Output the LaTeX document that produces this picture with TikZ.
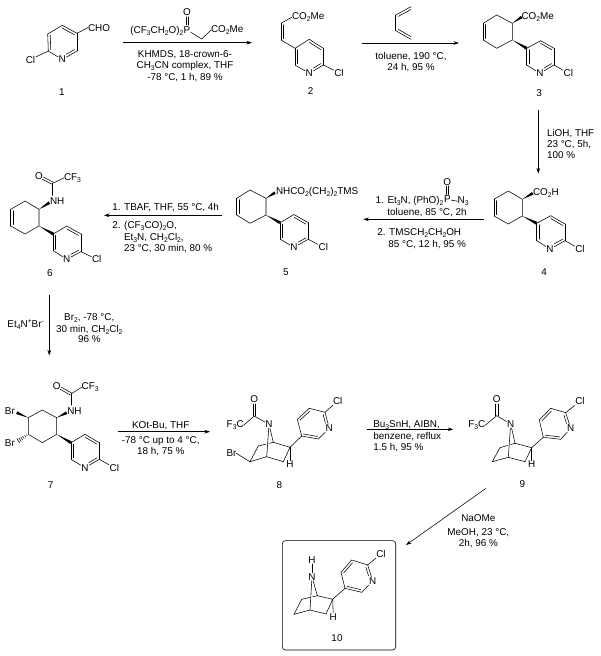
\documentclass[tikz,border=0pt]{standalone}
\usepackage{fontspec}
\setmainfont{Liberation Sans}
\usetikzlibrary{calc,arrows.meta}
\newcommand\sbs[1]{\raisebox{-0.22em}{\fontsize{6.8}{7}\selectfont #1}}
\newcommand\sps[1]{\raisebox{0.36em}{\fontsize{6.8}{7}\selectfont #1}}
% text helpers: name, x, y(centre), text
\newcommand\Lt[4]{\node[txt,anchor=base west] (#1) at (#2,#3) {#4};}
\newcommand\Rt[4]{\node[txt,anchor=base east] (#1) at (#2,#3) {#4};}
\newcommand\Ct[4]{\node[txt,anchor=base] (#1) at (#2,#3) {#4};}
\newcommand\At[4]{\node[atom] (#1) at (#2,#3) {#4};}
% bonds
\newcommand\dbl[3]{\draw[bond] (#1) -- (#2); \draw[bond] ($(#1)!.17!(#3)$) -- ($(#2)!.17!(#3)$);}
\newcommand\dbn[3]{\draw[bond] (#1) -- (#2); \draw[bond,shorten >=4.5pt] ($(#1)!.17!(#3)$) -- ($(#2)!.17!(#3)$);}
\newcommand\dbo[2]{\draw[bond] ($(#1)!1.2pt!90:(#2)$) -- ($(#2)!1.2pt!-90:(#1)$); \draw[bond] ($(#1)!1.2pt!-90:(#2)$) -- ($(#2)!1.2pt!90:(#1)$);}
\newcommand\solidw[2]{\fill ($(#1)$) -- ($(#2)!1.5pt!90:(#1)$) -- ($(#2)!1.5pt!-90:(#1)$) -- cycle;}
\newcommand\hashw[2]{\foreach \t/\w in {.12/.5,.27/.9,.42/1.3,.57/1.7,.72/2.1,.87/2.5}{\coordinate (hp) at ($(#1)!\t!(#2)$); \draw[bond] ($(hp)!\w pt!90:(#2)$) -- ($(hp)!\w pt!-90:(#2)$);}}
% pyridine: attach a, b, c, d(C-Cl), N, f, Cl centre, id
\newcommand\pyrset[8]{\coordinate (a) at (#1); \coordinate (b) at (#2); \coordinate (c) at (#3); \coordinate (d) at (#4); \coordinate (f) at (#6);
  \coordinate (m) at ($(a)!.5!(d)$);
  \node[atom] (N#8) at (#5) {N}; \node[atom] (Cl#8) at (#7) {Cl};
  \draw[bond] (d) -- (Cl#8);}
\newcommand\pyr[8]{\pyrset{#1}{#2}{#3}{#4}{#5}{#6}{#7}{#8}
  \draw[bond] (a) -- (b); \dbl{b}{c}{m} \draw[bond] (c) -- (d); \dbn{d}{N#8}{m} \draw[bond] (N#8) -- (f); \dbl{f}{a}{m}}
\newcommand\pyrK[8]{\pyrset{#1}{#2}{#3}{#4}{#5}{#6}{#7}{#8}
  \dbl{a}{b}{m} \draw[bond] (b) -- (c); \dbl{c}{d}{m} \draw[bond] (d) -- (N#8); \dbn{f}{N#8}{m} \draw[bond] (f) -- (a);}
% cyclohexene: t, ur, lr, b, ll, ul
\newcommand\hexen[6]{\coordinate (h1) at (#1); \coordinate (h2) at (#2); \coordinate (h3) at (#3); \coordinate (h4) at (#4); \coordinate (h5) at (#5); \coordinate (h6) at (#6);
  \coordinate (hm) at ($(h1)!.5!(h4)$);
  \draw[bond] (h6) -- (h1) -- (h2) -- (h3) -- (h4) -- (h5); \dbl{h5}{h6}{hm}}
% azanorbornane: c1,c2,c3,c4,c5,c6, top atom node
\newcommand\nor[7]{\coordinate (k1) at (#1); \coordinate (k2) at (#2); \coordinate (k3) at (#3); \coordinate (k4) at (#4); \coordinate (k5) at (#5); \coordinate (k6) at (#6);
  \draw[bond] (k1) -- (k2) -- (k3) -- (k4) -- (k5) -- (k6);
  \draw[bond] (k6) -- ($(k6)!.52!(k1)$); \draw[bond] ($(k6)!.72!(k1)$) -- (k1);
  \draw[bond] (#7) -- (k1); \draw[bond] (#7) -- (k4);}
\tikzset{
  txt/.style={inner sep=0pt,outer sep=0pt,font=\fontsize{9.9}{11}\selectfont,yshift=-3.5pt},
  atom/.style={inner sep=.6pt,outer sep=0pt,font=\fontsize{9.9}{11}\selectfont},
  bond/.style={line width=.55pt,line cap=round},
  rxn/.style={line width=.55pt,-{Stealth[length=5.5pt,width=3.6pt]}},
}
\begin{document}
\begin{tikzpicture}[x=1pt,y=-1pt]
\useasboundingbox (0,0) rectangle (600,656);
%% 1
\pyrK{77,33.3}{62.3,25.3}{47.7,34}{48.3,51}{62.3,59.5}{77,51}{30.5,59.5}{a}
\Lt{cho}{88}{27.5}{CHO}
\draw[bond] (a) -- (cho.west);
\Ct{L1}{62}{92}{1}
%% arrow 1
\coordinate (r1s) at (123,42.7); \coordinate (r1e) at (252,42.7);
\draw[rxn] (r1s) -- (r1e);
\Rt{p1a}{183.5}{30}{(CF\sbs{3}CH\sbs{2}O)\sbs{2}}
\At{p1}{187}{30}{P} \At{p1o}{187}{12}{O}
\Lt{p1c}{211}{29}{CO\sbs{2}Me}
\dbo{187,17}{187,25}
\coordinate (p1m) at (201.7,39);
\draw[bond] (p1) -- (p1m) -- (p1c.west);
\Ct{t1a}{185}{53.5}{KHMDS, 18-crown-6-}
\Ct{t1b}{185}{65}{CH\sbs{3}CN complex, THF}
\Ct{t1c}{185}{76.5}{-78 °C, 1 h, 89 \%}
%% 2
\pyr{295,48.3}{309.3,39.3}{323.3,48.3}{323.3,65}{309.3,73.3}{295,65}{339,72.7}{b}
\Lt{c2}{292}{16}{CO\sbs{2}Me}
\coordinate (v1) at (281,23.3); \coordinate (v2) at (281,40); \coordinate (vm) at (295,32);
\draw[bond] (c2.west) -- (v1); \dbl{v1}{v2}{vm} \draw[bond] (v2) -- (a);
\Ct{L2}{310.7}{91}{2}
%% arrow 2
\coordinate (r2s) at (361.7,43); \coordinate (r2e) at (459,43);
\draw[rxn] (r2s) -- (r2e);
\coordinate (d1) at (411,6.7); \coordinate (d2) at (395.7,15); \coordinate (d3) at (395.7,30.7); \coordinate (d4) at (411,39.3);
\coordinate (dm1) at (411,23); 
\dbl{d1}{d2}{dm1} \draw[bond] (d2) -- (d3); \dbl{d3}{d4}{dm1}
\Ct{t2a}{411}{56}{toluene, 190 °C,}
\Ct{t2b}{411}{67}{24 h, 95 \%}
%% 3
\hexen{496.7,15}{512.3,23.3}{512.3,40}{496.7,48.3}{483.3,40}{483.3,23.3}
\Lt{c3}{521.5}{16}{CO\sbs{2}Me}
\solidw{h2}{521.7,17}
\solidw{h3}{526.7,48.3}
\pyr{526.7,48.3}{540.7,40.7}{554,48.3}{554,65}{540,73.3}{526.7,65}{568.3,73.3}{c}
\Ct{L3}{539}{93.3}{3}
%% arrow 3
\coordinate (r3s) at (538.3,110); \coordinate (r3e) at (538.3,173.5);
\draw[rxn] (r3s) -- (r3e);
\Lt{t3a}{547}{132.7}{LiOH, THF}
\Lt{t3b}{547}{144}{23 °C, 5h,}
\Lt{t3c}{547}{155}{100 \%}
%% 4
\hexen{508.3,191}{522.3,199.3}{522.3,216}{508.3,224}{494,216}{494,199.3}
\Lt{c4}{533}{191.7}{CO\sbs{2}H}
\solidw{h2}{532.7,193.3}
\solidw{h3}{536.7,223.3}
\pyr{536.7,223.3}{550.7,215.7}{565,224}{565,240.7}{550,249}{536.7,240.7}{580,249}{d}
\Ct{L4}{544}{272.3}{4}
%% arrow 4
\coordinate (r4s) at (484,219.3); \coordinate (r4e) at (363.3,219.3);
\draw[rxn] (r4s) -- (r4e);
\Rt{t4a}{443.5}{200}{1. Et\sbs{3}N, (PhO)\sbs{2}}
\At{p4}{447.3}{199.5}{P} \At{p4o}{447.3}{181.7}{O}
\Lt{p4n}{457.7}{200}{N\sbs{3}}
\dbo{447.3,186}{447.3,194.5}
\draw[bond] (p4) -- (p4n.west);
\Lt{t4b}{387.3}{211.7}{toluene, 85 °C, 2h}
\Lt{t4c}{377.3}{232.3}{2. TMSCH\sbs{2}CH\sbs{2}OH}
\Lt{t4d}{388.3}{244}{85 °C, 12 h, 95 \%}
%% 5
\hexen{250,190}{266,198.3}{266,215}{250,223.3}{236.7,215}{236.7,198.3}
\Lt{c5}{276}{191}{NHCO\sbs{2}(CH\sbs{2})\sbs{2}TMS}
\solidw{h2}{275,192.7}
\solidw{h3}{280,222.7}
\pyr{280,222.7}{294,214.5}{308.3,222.7}{308.3,239.3}{294,247.3}{280,239}{323.3,247.3}{e}
\Ct{L5}{286}{272.3}{5}
%% arrow 5
\coordinate (r5s) at (221.7,215.3); \coordinate (r5e) at (104,215.3);
\draw[rxn] (r5s) -- (r5e);
\Lt{t5a}{112.3}{206.7}{1. TBAF, THF, 55 °C, 4h}
\Lt{t5b}{112.3}{225}{2. (CF\sbs{3}CO)\sbs{2}O,}
\Lt{t5c}{124}{236.7}{Et\sbs{3}N, CH\sbs{2}Cl\sbs{2},}
\Lt{t5d}{124}{248}{23 °C, 30 min, 80 \%}
%% 6
\hexen{25,201}{39,209.3}{39,226}{25,234}{10.7,226}{10.7,209.3}
\solidw{h2}{49.3,202.7}
\solidw{h3}{53.3,234}
\Lt{nh6}{50}{200.7}{NH}
\At{o6}{39}{176}{O}
\Lt{cf6}{64}{176.7}{CF\sbs{3}}
\coordinate (c6) at (52.7,183.3);
\dbo{43,178.2}{c6}
\draw[bond] (c6) -- (cf6.west);
\coordinate (c6n) at (52.7,195.5);
\draw[bond] (c6) -- (c6n);
\pyr{53.3,234}{66.7,226}{81,234}{81,251.7}{66.7,259.3}{53.3,250.7}{96.7,259.3}{f}
\Ct{L6}{50}{272.7}{6}
%% arrow 6
\coordinate (r6s) at (49.3,295); \coordinate (r6e) at (49.3,355.5);
\draw[rxn] (r6s) -- (r6e);
\Ct{t6x}{25.7}{324}{Et\sbs{4}N\sps{+}Br\sps{-}}
\Ct{t6a}{89.3}{316.7}{Br\sbs{2}, -78 °C,}
\Ct{t6b}{89.3}{329}{30 min, CH\sbs{2}Cl\sbs{2}}
\Ct{t6c}{89.3}{339.3}{96 \%}
%% 7
\coordinate (r1) at (42.3,410); \coordinate (r2) at (56.7,417.7); \coordinate (r3) at (56.7,434.3); \coordinate (r4) at (42.3,442.7); \coordinate (r5) at (28.3,434.3); \coordinate (r6) at (28.3,417.7);
\draw[bond] (r1) -- (r2) -- (r3) -- (r4) -- (r5) -- (r6) -- cycle;
\solidw{r2}{66.7,412.7}
\solidw{r3}{71,442.7}
\solidw{r6}{16.7,412.7}
\hashw{r5}{16.7,441.7}
\Lt{br7a}{5}{410.7}{Br}
\Lt{br7b}{5}{442.7}{Br}
\Lt{nh7}{67.3}{410.7}{NH}
\At{o7}{56.7}{386}{O}
\Lt{cf7}{81.7}{386}{CF\sbs{3}}
\coordinate (c7) at (71,394);
\dbo{60.7,388.2}{c7}
\draw[bond] (c7) -- (cf7.west);
\coordinate (c7n) at (71,405);
\draw[bond] (c7) -- (c7n);
\pyr{71,442.7}{85,434.3}{99.3,442.7}{99.3,459.3}{85,467.7}{71,459.3}{114.3,467.7}{g}
\Ct{L7}{50.7}{485}{7}
%% arrow 7
\coordinate (r7s) at (118.3,431.7); \coordinate (r7e) at (210,431.7);
\draw[rxn] (r7s) -- (r7e);
\Ct{t7a}{160.7}{425}{KOt-Bu, THF}
\Ct{t7b}{160.7}{440}{-78 °C up to 4 °C,}
\Ct{t7c}{160.7}{451}{18 h, 75 \%}
%% 8
\At{n8}{269}{424.3}{N} \At{h8}{290}{464.5}{H} \At{o8}{254.3}{399}{O}
\Lt{f8}{226.7}{424}{F\sbs{3}C}
\Lt{br8}{226.5}{453.3}{Br}
\nor{273.3,442.3}{290,447.3}{283.3,461.7}{266.7,456.7}{250,461.7}{258.3,446}{n8}
\draw[bond] (br8.east) -- (k5);
\draw[bond] (k2) -- (h8);
\coordinate (c8) at (254.3,416);
\dbo{254.3,404}{c8}
\draw[bond] (c8) -- (f8.east); \draw[bond] (c8) -- (n8);
\draw[bond] (k2) -- (301.7,436);
\pyr{301.7,436}{297.3,419.3}{309.3,408.3}{325,412.3}{329.3,428.3}{318.3,439}{337.7,401}{h}
\Ct{L8}{279.3}{485}{8}
%% arrow 8
\coordinate (r8s) at (366.7,429.3); \coordinate (r8e) at (453.3,429.3);
\draw[rxn] (r8s) -- (r8e);
\Lt{t8a}{373.3}{424}{Bu\sbs{3}SnH, AIBN,}
\Lt{t8b}{373.3}{435.5}{benzene, reflux}
\Lt{t8c}{373.3}{447}{1.5 h, 95 \%}
%% 9
\At{n9}{510.7}{424}{N} \At{h9}{531.7}{464.5}{H} \At{o9}{496.7}{399.3}{O}
\Lt{f9}{468.3}{424}{F\sbs{3}C}
\nor{515,443.3}{531.7,447.7}{525,461.7}{508.3,457.3}{492.3,461.7}{500,447.7}{n9}
\draw[bond] (k2) -- (h9);
\coordinate (c9) at (496.7,415.7);
\dbo{496.7,404}{c9}
\draw[bond] (c9) -- (f9.east); \draw[bond] (c9) -- (n9);
\draw[bond] (k2) -- (543.3,437.3);
\pyr{543.3,437.3}{539.3,420}{550.7,408.3}{565.7,412.7}{570.7,428.3}{560.7,439.3}{580,401}{i}
\Ct{L9}{522.3}{484}{9}
%% arrow 9
\coordinate (r9s) at (486,488.3); \coordinate (r9e) at (406,545);
\draw[rxn] (r9s) -- (r9e);
\Ct{t9a}{478.3}{518.3}{NaOMe}
\Ct{t9b}{478.3}{531.7}{MeOH, 23 °C,}
\Ct{t9c}{478.3}{543.3}{2h, 96 \%}
%% 10
\node[draw,line width=.6pt,rounded corners=3pt,inner sep=0pt,minimum width=113.4pt,minimum height=109.3pt] (box) at (339,595.3) {};
\At{h10n}{312}{560}{H} \At{n10}{312}{576.7}{N} \At{h10}{333.3}{616.7}{H}
\draw[bond] (h10n) -- (n10);
\nor{317.3,595.7}{332.7,599.3}{326,614}{310,610}{294,614.3}{301.7,599.3}{n10}
\draw[bond] (k2) -- (h10);
\draw[bond] (k2) -- (345,588.3);
\pyr{345,588.3}{341,572.3}{351.7,560}{367.7,565}{372.7,581}{361.7,592.3}{381,554}{j}
\Ct{L10}{337}{638.3}{10}
\end{tikzpicture}
\end{document}
